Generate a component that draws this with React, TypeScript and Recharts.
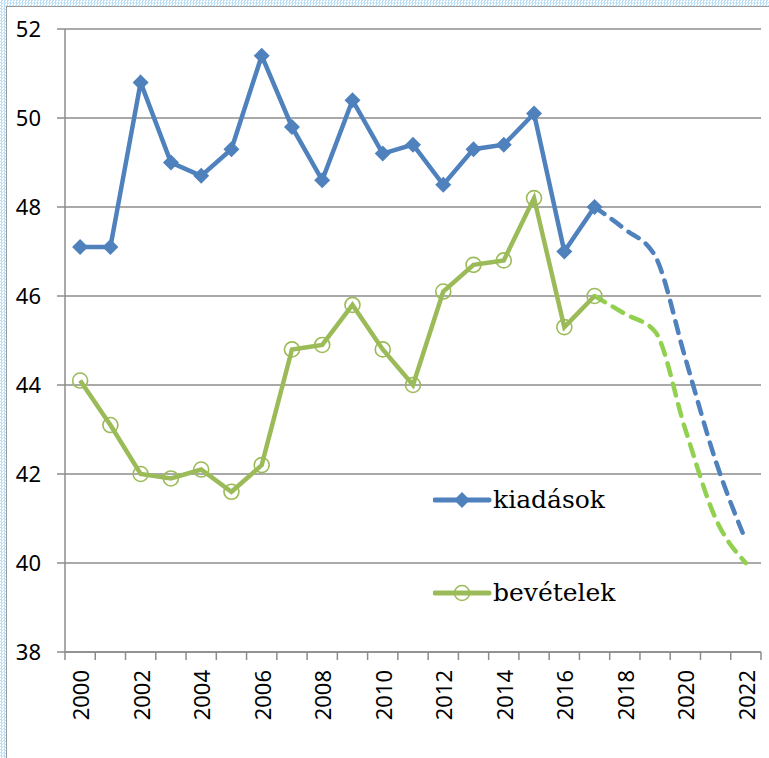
import React from "react";
import { LineChart, Line, XAxis, YAxis, CartesianGrid, Legend } from "recharts";

const years = [
  2000, 2001, 2002, 2003, 2004, 2005, 2006, 2007, 2008, 2009, 2010, 2011,
  2012, 2013, 2014, 2015, 2016, 2017, 2018, 2019, 2020, 2021, 2022,
];

// kiadások (2000-2017 tény)
const kiadasok = [
  47.1, 47.1, 50.8, 49.0, 48.7, 49.3, 51.4, 49.8, 48.6, 50.4, 49.2, 49.4,
  48.5, 49.3, 49.4, 50.1, 47.0, 48.0,
];
// kiadások előrejelzés (2017-2022)
const kiadasokForecast = [48.0, 47.5, 46.9, 44.6, 42.3, 40.5];

// bevételek (2000-2017 tény)
const bevetelek = [
  44.1, 43.1, 42.0, 41.9, 42.1, 41.6, 42.2, 44.8, 44.9, 45.8, 44.8, 44.0,
  46.1, 46.7, 46.8, 48.2, 45.3, 46.0,
];
// bevételek előrejelzés (2017-2022)
const bevetelekForecast = [46.0, 45.6, 45.2, 43.0, 41.0, 40.0];

const yTicks = [38, 40, 42, 44, 46, 48, 50, 52];
const forecastStart = 2017;

const data = years.map((year, i) => {
  const fi = year - forecastStart;
  return {
    year,
    kiad: i < kiadasok.length ? kiadasok[i] : null,
    kiadF: fi >= 0 && fi < kiadasokForecast.length ? kiadasokForecast[fi] : null,
    bev: i < bevetelek.length ? bevetelek[i] : null,
    bevF: fi >= 0 && fi < bevetelekForecast.length ? bevetelekForecast[fi] : null,
  };
});

const BLUE = "#4F81BD";
const GREEN = "#9BBB59";
const GREEN_DASH = "#92D050";
const GRID = "#8C8C8C";

const W = 769;
const H = 758;
const PLOT_LEFT = 65;
const PLOT_RIGHT = 761;
const HALF_BAND = (PLOT_RIGHT - PLOT_LEFT) / years.length / 2;

const tickFont = "'Noto Sans', sans-serif";

function Diamond(props: any) {
  const { cx, cy } = props;
  if (cx == null || cy == null) return null;
  const s = 8;
  return (
    <path
      d={`M${cx},${cy - s} L${cx + s},${cy} L${cx},${cy + s} L${cx - s},${cy} Z`}
      fill={BLUE}
    />
  );
}

function Ring(props: any) {
  const { cx, cy } = props;
  if (cx == null || cy == null) return null;
  return <circle cx={cx} cy={cy} r={7.5} fill="none" stroke={GREEN} strokeWidth={1.6} />;
}

function YearTick(props: any) {
  const { x, y, payload } = props;
  const year = payload.value;
  return (
    <g>
      <line x1={x - HALF_BAND} y1={y - 8} x2={x - HALF_BAND} y2={y} stroke={GRID} strokeWidth={1.5} />
      {year === years[years.length - 1] && (
        <line x1={x + HALF_BAND} y1={y - 8} x2={x + HALF_BAND} y2={y} stroke={GRID} strokeWidth={1.5} />
      )}
      {year % 2 === 0 && (
        <text
          x={0}
          y={0}
          transform={`translate(${x},${y + 10}) rotate(-90)`}
          textAnchor="end"
          dominantBaseline="central"
          fontFamily={tickFont}
          fontSize={22}
          fill="#000"
        >
          {year}
        </text>
      )}
    </g>
  );
}

function LegendBox() {
  const item = (label: string, color: string, marker: "d" | "c", top: number) => (
    <div style={{ position: "absolute", left: 0, top, display: "flex", alignItems: "center" }}>
      <svg width={60} height={20}>
        <line x1={2} y1={10} x2={56} y2={10} stroke={color} strokeWidth={5} strokeLinecap="round" />
        {marker === "d" ? (
          <path d="M29,2 L37,10 L29,18 L21,10 Z" fill={color} />
        ) : (
          <circle cx={29} cy={10} r={7.5} fill="none" stroke={color} strokeWidth={1.6} />
        )}
      </svg>
      <span style={{ fontFamily: "'DejaVu Serif', serif", fontSize: 25, color: "#000", lineHeight: "20px" }}>
        {label}
      </span>
    </div>
  );
  return (
    <div style={{ position: "relative", width: 220, height: 120 }}>
      {item("kiadások", BLUE, "d", 0)}
      {item("bevételek", GREEN, "c", 93)}
    </div>
  );
}

export default function App() {
  return (
    <div
      style={{
        position: "relative",
        width: W,
        height: H,
        overflow: "hidden",
        background: "#fff",
      }}
    >
      <style>{"body{margin:0}"}</style>
      <div
        style={{
          position: "absolute",
          left: 0,
          top: 0,
          width: W,
          height: H,
          background: "repeating-conic-gradient(#bfe1f7 0 25%, #ffffff 0 50%) 0 0/3px 3px",
        }}
      />
      <div
        style={{
          position: "absolute",
          left: 6,
          top: 6,
          width: W,
          height: H,
          background: "#fff",
          borderLeft: "1.5px solid #9a9a9a",
          borderTop: "1.5px solid #9a9a9a",
        }}
      />
      <div style={{ position: "absolute", left: 0, top: 0 }}>
        <LineChart
          width={W}
          height={H}
          data={data}
          margin={{ top: 29, right: W - PLOT_RIGHT, left: 0, bottom: 0 }}
        >
          <CartesianGrid vertical={false} stroke={GRID} strokeWidth={1.5} />
          <XAxis
            dataKey="year"
            type="number"
            domain={[years[0] - 0.5, years[years.length - 1] + 0.5]}
            ticks={years}
            interval={0}
            height={H - 652}
            axisLine={{ stroke: GRID, strokeWidth: 1.5 }}
            tickLine={false}
            tick={<YearTick />}
          />
          <YAxis
            type="number"
            domain={[38, 52]}
            ticks={yTicks}
            interval={0}
            width={PLOT_LEFT}
            axisLine={{ stroke: GRID, strokeWidth: 1.5 }}
            tickLine={{ stroke: GRID, strokeWidth: 1.5 }}
            tickSize={8}
            tickMargin={16}
            tick={{ fontFamily: tickFont, fontSize: 22, fill: "#000" }}
          />
          <Legend
            layout="horizontal"
            verticalAlign="middle"
            align="center"
            content={<LegendBox />}
            wrapperStyle={{ position: "absolute", left: 433, top: 490, width: 220, height: 120 }}
          />
          <Line
            dataKey="kiadF"
            type="monotone"
            stroke={BLUE}
            strokeWidth={4.5}
            strokeDasharray="12 9"
            strokeLinecap="round"
            dot={false}
            activeDot={false}
            isAnimationActive={false}
            legendType="none"
          />
          <Line
            dataKey="bevF"
            type="monotone"
            stroke={GREEN_DASH}
            strokeWidth={4.5}
            strokeDasharray="12 9"
            strokeLinecap="round"
            dot={false}
            activeDot={false}
            isAnimationActive={false}
            legendType="none"
          />
          <Line
            dataKey="kiad"
            type="linear"
            stroke={BLUE}
            strokeWidth={4.5}
            dot={<Diamond />}
            activeDot={false}
            isAnimationActive={false}
          />
          <Line
            dataKey="bev"
            type="linear"
            stroke={GREEN}
            strokeWidth={4.5}
            dot={<Ring />}
            activeDot={false}
            isAnimationActive={false}
          />
        </LineChart>
      </div>
    </div>
  );
}
